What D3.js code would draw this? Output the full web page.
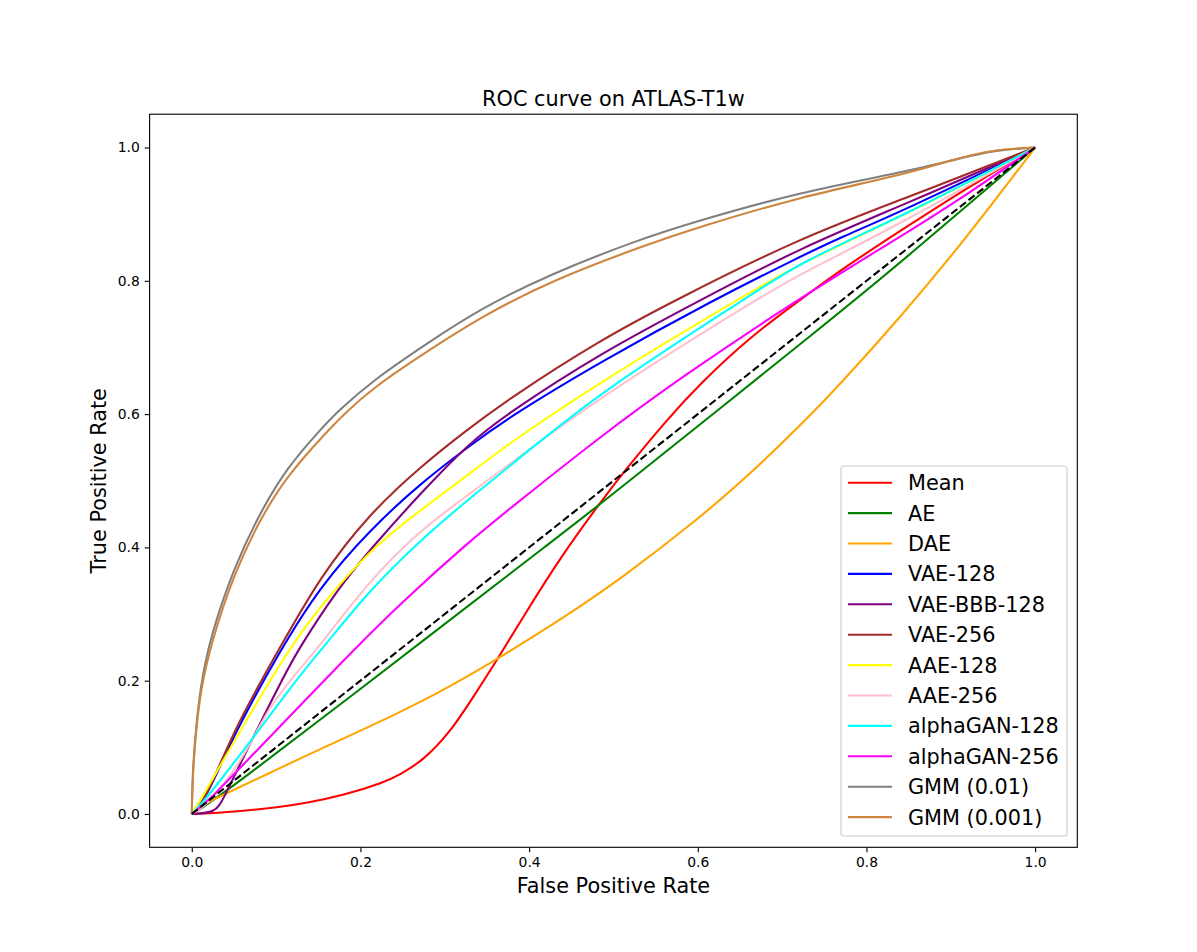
<!DOCTYPE html>
<html>
<head>
<meta charset="utf-8">
<script src="https://cdn.jsdelivr.net/npm/d3@7"></script>
<style>
  html, body { margin: 0; padding: 0; background: #fff; }
  svg { display: block; font-family: "DejaVu Sans", sans-serif; }
</style>
</head>
<body>
<div id="chart"></div>
<script>
// ROC curves: [FPR, TPR] pairs per model
const modelNames = ['Mean', 'AE', 'DAE', 'VAE-128', 'VAE-BBB-128', 'VAE-256',
  'AAE-128', 'AAE-256', 'alphaGAN-128', 'alphaGAN-256', 'GMM (0.01)', 'GMM (0.001)'];

const meanROC = [[0,0],[0.05,0.003],[0.108,0.011],[0.134,0.016],[0.18,0.028],[0.227,0.047],[0.247,0.059],
  [0.275,0.081],[0.306,0.122],[0.334,0.176],[0.362,0.231],[0.397,0.304],[0.435,0.381],[0.484,0.467],
  [0.514,0.516],[0.563,0.591],[0.603,0.646],[0.662,0.716],[0.721,0.771],[0.769,0.816],[0.84,0.875],
  [0.92,0.94],[1,1]];
const aeROC = [[0,0],[0.03,0.022],[0.306,0.291],[0.429,0.411],[0.484,0.464],[0.769,0.753],[0.84,0.827],[1,1]];
const daeROC = [[0,0],[0.01,0.012],[0.028,0.023],[0.134,0.087],[0.247,0.152],[0.306,0.191],[0.362,0.232],
  [0.444,0.297],[0.508,0.352],[0.603,0.445],[0.66,0.508],[0.721,0.582],[0.769,0.645],[0.84,0.745],
  [0.919,0.865],[1,1]];
const vae128ROC = [[0,0],[0.016,0.02],[0.05,0.12],[0.105,0.246],[0.152,0.341],[0.211,0.426],[0.271,0.496],
  [0.33,0.553],[0.377,0.596],[0.484,0.678],[0.618,0.771],[0.721,0.836],[0.769,0.865],[0.84,0.903],[1,1]];
const vaeBBBROC = [[0,0],[0.028,0.002],[0.037,0.021],[0.071,0.111],[0.111,0.211],[0.126,0.246],[0.172,0.336],
  [0.211,0.396],[0.271,0.481],[0.33,0.558],[0.377,0.603],[0.484,0.691],[0.603,0.771],[0.721,0.849],
  [0.84,0.912],[1,1]];
const vae256ROC = [[0,0],[0.016,0.02],[0.051,0.13],[0.103,0.246],[0.152,0.356],[0.211,0.451],[0.271,0.521],
  [0.326,0.576],[0.377,0.624],[0.484,0.711],[0.573,0.771],[0.721,0.864],[0.84,0.921],[1,1]];
const aae128ROC = [[0,0],[0.013,0.026],[0.051,0.111],[0.114,0.246],[0.152,0.311],[0.211,0.396],[0.271,0.456],
  [0.33,0.511],[0.377,0.557],[0.484,0.648],[0.646,0.771],[0.721,0.826],[0.84,0.895],[1,1]];
const aae256ROC = [[0,0],[0.02,0.015],[0.06,0.08],[0.091,0.161],[0.13,0.221],[0.148,0.246],[0.211,0.351],
  [0.271,0.426],[0.33,0.481],[0.377,0.525],[0.484,0.626],[0.668,0.771],[0.721,0.81],[0.84,0.885],[1,1]];
const agan128ROC = [[0,0],[0.015,0.02],[0.031,0.046],[0.071,0.111],[0.126,0.205],[0.156,0.25],[0.211,0.336],
  [0.271,0.411],[0.33,0.474],[0.377,0.522],[0.484,0.633],[0.654,0.771],[0.721,0.828],[0.84,0.895],[1,1]];
const agan256ROC = [[0,0],[0.02,0.02],[0.051,0.061],[0.134,0.17],[0.191,0.245],[0.251,0.32],[0.33,0.41],
  [0.377,0.458],[0.484,0.566],[0.579,0.654],[0.713,0.768],[0.84,0.866],[0.92,0.93],[1,1]];
const gmm01ROC = [[0,0],[0.001,0.06],[0.004,0.115],[0.01,0.19],[0.022,0.266],[0.05,0.37],[0.08,0.45],
  [0.113,0.52],[0.152,0.576],[0.172,0.603],[0.215,0.651],[0.28,0.707],[0.342,0.758],[0.425,0.81],
  [0.528,0.861],[0.6,0.89],[0.721,0.933],[0.84,0.962],[0.9,0.98],[0.95,0.996],[1,1]];
const gmm001ROC = [[0,0],[0.001,0.055],[0.004,0.11],[0.01,0.185],[0.024,0.261],[0.05,0.36],[0.08,0.44],
  [0.113,0.508],[0.162,0.576],[0.179,0.598],[0.215,0.64],[0.28,0.695],[0.342,0.745],[0.425,0.8],
  [0.543,0.856],[0.6,0.88],[0.721,0.926],[0.84,0.958],[0.9,0.981],[0.95,0.997],[1,1]];
const chanceLine = [[0,0],[1,1]];

const xTicks = [0, 0.2, 0.4, 0.6, 0.8, 1.0];
const yTicks = [0, 0.2, 0.4, 0.6, 0.8, 1.0];

const allROC = [meanROC, aeROC, daeROC, vae128ROC, vaeBBBROC, vae256ROC,
  aae128ROC, aae256ROC, agan128ROC, agan256ROC, gmm01ROC, gmm001ROC];
const colors = ['red', 'green', 'orange', 'blue', 'purple', 'brown',
  'yellow', 'pink', 'cyan', 'magenta', 'gray', 'peru'];

const W = 1197, H = 952;
const margin = { left: 149.6, right: W - 1077.3, top: 114.2, bottom: H - 847.3 };
const iw = W - margin.left - margin.right;
const ih = H - margin.top - margin.bottom;

const svg = d3.select('#chart').append('svg')
  .attr('width', W).attr('height', H);

const g = svg.append('g').attr('transform', `translate(${margin.left},${margin.top})`);

const x = d3.scaleLinear().domain([-0.05, 1.05]).range([0, iw]);
const y = d3.scaleLinear().domain([-0.05, 1.05]).range([ih, 0]);

// B-spline smooths over the small reading errors in the traced points
const line = d3.line()
  .x(d => x(d[0]))
  .y(d => y(d[1]))
  .curve(d3.curveBasis);

// curves
allROC.forEach((pts, i) => {
  g.append('path')
    .datum(pts)
    .attr('d', line)
    .attr('fill', 'none')
    .attr('stroke', colors[i])
    .attr('stroke-width', 2.08)
    .attr('stroke-linejoin', 'round');
});

// chance diagonal
g.append('path')
  .datum(chanceLine)
  .attr('d', d3.line().x(d => x(d[0])).y(d => y(d[1])))
  .attr('fill', 'none')
  .attr('stroke', 'black')
  .attr('stroke-width', 2.08)
  .attr('stroke-dasharray', '7.7,3.3');

// axes
const fmt = d3.format('.1f');
const xAxis = g.append('g')
  .attr('transform', `translate(0,${ih})`)
  .call(d3.axisBottom(x).tickValues(xTicks).tickFormat(fmt).tickSize(4.9).tickPadding(4.9).tickSizeOuter(0));
const yAxis = g.append('g')
  .call(d3.axisLeft(y).tickValues(yTicks).tickFormat(fmt).tickSize(4.9).tickPadding(4.9).tickSizeOuter(0));

[xAxis, yAxis].forEach(a => {
  a.select('.domain').remove();
  a.selectAll('.tick line').attr('stroke', 'black').attr('stroke-width', 1.1);
  a.selectAll('.tick text')
    .attr('fill', 'black')
    .style('font-family', '"DejaVu Sans", sans-serif')
    .style('font-size', '13.9px');
});

// frame
g.append('rect')
  .attr('width', iw).attr('height', ih)
  .attr('fill', 'none')
  .attr('stroke', 'black')
  .attr('stroke-width', 1.1);

// title and labels
svg.append('text')
  .attr('x', margin.left + iw / 2).attr('y', 106)
  .attr('text-anchor', 'middle')
  .style('font-size', '20.8px')
  .text('ROC curve on ATLAS-T1w');

svg.append('text')
  .attr('x', margin.left + iw / 2).attr('y', 893)
  .attr('text-anchor', 'middle')
  .style('font-size', '20.8px')
  .text('False Positive Rate');

svg.append('text')
  .attr('transform', `translate(106,${margin.top + ih / 2}) rotate(-90)`)
  .attr('text-anchor', 'middle')
  .style('font-size', '20.8px')
  .text('True Positive Rate');

// legend
const legX = 841, legY = 466, legW = 226, legH = 370, rowH = 30.4;
const leg = svg.append('g');
leg.append('rect')
  .attr('x', legX).attr('y', legY)
  .attr('width', legW).attr('height', legH)
  .attr('rx', 3)
  .attr('fill', 'white').attr('fill-opacity', 0.8)
  .attr('stroke', '#cccccc').attr('stroke-width', 1.1);

modelNames.forEach((name, i) => {
  const cy = legY + 16.7 + i * rowH;
  leg.append('line')
    .attr('x1', legX + 7).attr('x2', legX + 51)
    .attr('y1', cy).attr('y2', cy)
    .attr('stroke', colors[i]).attr('stroke-width', 2.08);
  leg.append('text')
    .attr('x', legX + 67).attr('y', cy + 7.5)
    .style('font-size', '20.8px')
    .text(name);
});
</script>
</body>
</html>
